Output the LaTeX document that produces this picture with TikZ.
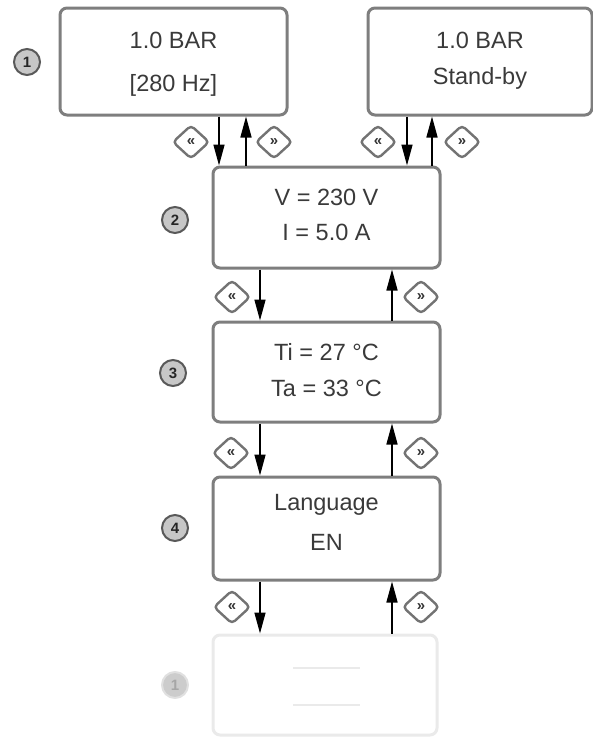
\documentclass[tikz,border=0pt]{standalone}
\usepackage{fontspec}
\setmainfont{Liberation Sans}
\usetikzlibrary{shapes.geometric,arrows.meta}
\definecolor{boxgray}{HTML}{7E7E7E}
\definecolor{txtgray}{HTML}{3A3A3A}
\definecolor{fadegray}{HTML}{EAEAEA}
\begin{document}
\begin{tikzpicture}[x=1pt,y=-1pt,
  screen/.style={draw=boxgray, line width=3pt, rounded corners=7pt, fill=white, inner sep=0pt},
  faded/.style={draw=fadegray, line width=3pt, rounded corners=7pt, fill=white, inner sep=0pt},
  txt/.style={text=txtgray, font=\fontsize{23.5}{26}\selectfont, inner sep=0pt},
  stepnum/.style={circle, draw=black!65, line width=2pt, fill=black!22, minimum size=26pt, inner sep=0pt, text=black!85, font=\fontsize{15}{15}\selectfont\bfseries},
  fadednum/.style={circle, draw=black!12, line width=2pt, fill=black!20, minimum size=26pt, inner sep=0pt, text=black!35, font=\fontsize{15}{15}\selectfont\bfseries},
  btn/.style={diamond, aspect=1.1, draw=black!55, line width=2.4pt, rounded corners=4pt, fill=white, minimum width=37pt, minimum height=34pt, inner sep=0pt, text=black!80, font=\fontsize{15}{15}\selectfont\bfseries},
  arr/.style={line width=1.5pt, -{Triangle[length=21pt,width=11pt]}},
]
\useasboundingbox (0,0) rectangle (593,740);

% screens
\node[screen, minimum width=227pt, minimum height=107pt] (b1L) at (173.5,61.5) {};
\node[screen, minimum width=224pt, minimum height=107pt] (b1R) at (480,61.5) {};
\node[screen, minimum width=227pt, minimum height=101pt] (b2) at (326.5,217.5) {};
\node[screen, minimum width=227pt, minimum height=100pt] (b3) at (326.5,372) {};
\node[screen, minimum width=227pt, minimum height=103pt] (b4) at (326.5,528.5) {};
\node[faded, minimum width=224pt, minimum height=100pt] (b5) at (325,685) {};

% texts
\node[txt] (t1a) at (173.5,40) {1.0 BAR};
\node[txt] (t1b) at (173.5,85) {[280 Hz]};
\node[txt] (t1c) at (480,40) {1.0 BAR};
\node[txt] (t1d) at (480,78) {Stand-by};
\node[txt] (t2a) at (326.5,197) {V = 230 V};
\node[txt] (t2b) at (326.5,232) {I = 5.0 A};
\node[txt] (t3a) at (326.5,352) {Ti = 27 °C};
\node[txt] (t3b) at (326.5,388) {Ta = 33 °C};
\node[txt] (t4a) at (326.5,505) {Language};
\node[txt] (t4b) at (326.5,542) {EN};
\draw[fadegray, line width=1.5pt] (293,668) -- (360,668);
\draw[fadegray, line width=1.5pt] (293,705) -- (360,705);

% step numbers
\node[stepnum] (n1) at (27,62) {1};
\node[stepnum] (n2) at (175,220) {2};
\node[stepnum] (n3) at (173,373) {3};
\node[stepnum] (n4) at (175,528) {4};
\node[fadednum] (n5) at (175,685) {1};

% x positions of arrows
\coordinate (xa) at (219,0);
\coordinate (xb) at (246,0);
\coordinate (xc) at (407,0);
\coordinate (xd) at (432,0);
\coordinate (xe) at (260,0);
\coordinate (xf) at (392,0);

% arrows
\draw[arr] (b1L.south -| xa) -- (b2.north -| xa);
\draw[arr] (b2.north -| xb) -- (b1L.south -| xb);
\draw[arr] (b1R.south -| xc) -- (b2.north -| xc);
\draw[arr] (b2.north -| xd) -- (b1R.south -| xd);
\draw[arr] (b2.south -| xe) -- (b3.north -| xe);
\draw[arr] (b3.north -| xf) -- (b2.south -| xf);
\draw[arr] (b3.south -| xe) -- (b4.north -| xe);
\draw[arr] (b4.north -| xf) -- (b3.south -| xf);
\draw[arr] (b4.south -| xe) -- (b5.north -| xe);
\draw[arr] (b5.north -| xf) -- (b4.south -| xf);

% buttons
\node[btn] (k1) at (191,142) {«};
\node[btn] (k2) at (274,142) {»};
\node[btn] (k3) at (378,142) {«};
\node[btn] (k4) at (462,142) {»};
\node[btn] (k5) at (232,297) {«};
\node[btn] (k6) at (421,297) {»};
\node[btn] (k7) at (231,453) {«};
\node[btn] (k8) at (421,453) {»};
\node[btn] (k9) at (232,607) {«};
\node[btn] (k10) at (421,607) {»};
\end{tikzpicture}
\end{document}
